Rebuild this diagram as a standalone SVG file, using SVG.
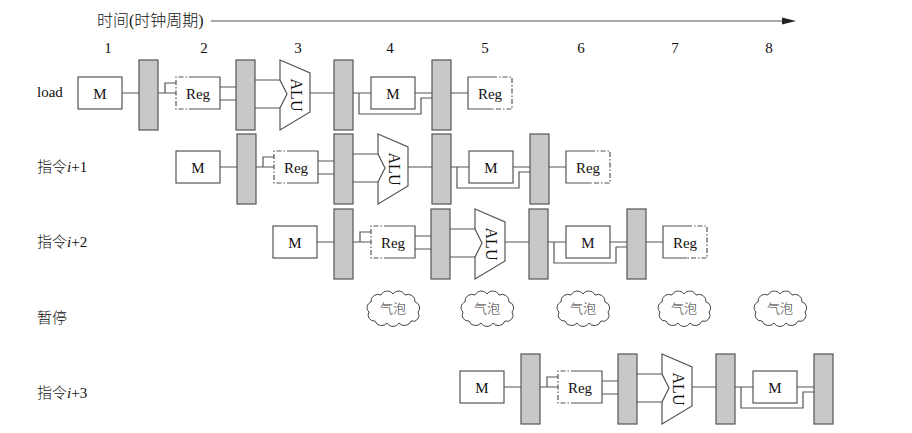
<svg xmlns="http://www.w3.org/2000/svg" width="912" height="433" viewBox="0 0 912 433">
<style>
.bg{fill:#fff}
.box{fill:#fff;stroke:#555;stroke-width:1.2}
.reg{fill:#c8c8c8;stroke:#555;stroke-width:1.2}
.sol{fill:none;stroke:#555;stroke-width:1.2}
.dash{fill:none;stroke:#555;stroke-width:1.2;stroke-dasharray:5 2 1.5 2}
.fillw{fill:#fff;stroke:none}
.alu{fill:#fff;stroke:#555;stroke-width:1.2}
.wire{fill:none;stroke:#555;stroke-width:1.2}
.cloud{fill:#fff;stroke:#444;stroke-width:1}
.t{font-family:"Liberation Serif","Noto Sans CJK SC",serif;font-size:15px;fill:#111}
.tc{font-family:"Liberation Serif","Noto Sans CJK SC",serif;font-size:15px;fill:#111;text-anchor:middle}
.lbl{font-family:"Liberation Serif","Noto Sans CJK SC",serif;font-size:15px;font-weight:300;fill:#111}
.title{font-family:"Liberation Serif","Noto Sans CJK SC",serif;font-size:16px;font-weight:300;fill:#111}
.bub{font-family:"Noto Sans CJK SC",sans-serif;font-size:13px;font-weight:300;fill:#333;text-anchor:middle}
.alut{font-family:"Liberation Serif",serif;font-size:16px;fill:#111;text-anchor:middle}
</style>
<defs>
<path id="cloudShape" d="M -24,4 A 6 6 0 0 1 -22,-6 A 7 7 0 0 1 -12,-13 A 7 7 0 0 1 0,-14 A 7 7 0 0 1 12,-13 A 7 7 0 0 1 22,-6 A 6 6 0 0 1 25,4 A 6 6 0 0 1 18,13 A 7 7 0 0 1 6,15 A 7 7 0 0 1 -6,15 A 7 7 0 0 1 -18,13 A 6 6 0 0 1 -24,4 Z"/>
</defs>
<rect class="bg" x="0" y="0" width="912" height="433"/>

<!-- title and time axis -->
<g id="axis">
<text class="title" x="97" y="26">时间(时钟周期)</text>
<line class="wire" x1="211" y1="21" x2="785" y2="21"/>
<polygon points="782,17.5 796,21 782,24.5" fill="#222"/>
<text class="tc" x="108" y="53">1</text>
<text class="tc" x="204" y="53">2</text>
<text class="tc" x="298" y="53">3</text>
<text class="tc" x="390" y="53">4</text>
<text class="tc" x="485" y="53">5</text>
<text class="tc" x="581" y="53">6</text>
<text class="tc" x="675" y="53">7</text>
<text class="tc" x="769" y="53">8</text>
</g>

<!-- row labels -->
<g id="labels">
<text class="lbl" x="37" y="97" font-size="16">load</text>
<text class="lbl" x="37" y="172">指令<tspan font-style="italic">i</tspan>+1</text>
<text class="lbl" x="37" y="247">指令<tspan font-style="italic">i</tspan>+2</text>
<text class="lbl" x="37" y="323">暂停</text>
<text class="lbl" x="37" y="398">指令<tspan font-style="italic">i</tspan>+3</text>
</g>

<!-- connectors -->
<g id="connectors">
<g transform="translate(139,60)">
<path class="wire" d="M -17,33 H 0 M 19,33 H 37 M 26,33 V 23 H 37 M 81,27 H 97 M 81,40 H 97 M 116,20 H 141 M 116,48 H 141 M 171,33 H 195 M 214,33 H 232 M 220,33 V 54 H 282 V 38 H 293 M 276,33 H 293 M 312,33 H 329"/>
</g>
<g transform="translate(237,134)">
<path class="wire" d="M -17,33 H 0 M 19,33 H 37 M 26,33 V 23 H 37 M 81,27 H 97 M 81,40 H 97 M 116,20 H 141 M 116,48 H 141 M 171,33 H 195 M 214,33 H 232 M 220,33 V 54 H 282 V 38 H 293 M 276,33 H 293 M 312,33 H 329"/>
</g>
<g transform="translate(334,209)">
<path class="wire" d="M -17,33 H 0 M 19,33 H 37 M 26,33 V 23 H 37 M 81,27 H 97 M 81,40 H 97 M 116,20 H 141 M 116,48 H 141 M 171,33 H 195 M 214,33 H 232 M 220,33 V 54 H 282 V 38 H 293 M 276,33 H 293 M 312,33 H 329"/>
</g>
<g transform="translate(521,354)">
<path class="wire" d="M -17,33 H 0 M 19,33 H 37 M 26,33 V 23 H 37 M 81,27 H 97 M 81,40 H 97 M 116,20 H 141 M 116,48 H 141 M 171,33 H 195 M 214,33 H 232 M 220,33 V 54 H 282 V 38 H 293 M 276,33 H 293"/>
</g>
</g>

<!-- row 1: load -->
<g id="row-load" transform="translate(139,60)">
<g id="load-M"><rect class="box" x="-61" y="17" width="44" height="32"/><text class="tc" x="-39" y="38.5">M</text></g>
<g id="load-P1"><rect class="reg" x="0" y="0" width="19" height="70"/></g>
<g id="load-RegR"><rect class="fillw" x="37" y="17" width="44" height="32"/><path class="dash" d="M 55,17 H 37 V 49 H 55"/><path class="sol" d="M 55,17 H 81 V 49 H 55"/><text class="tc" x="59" y="38.5">Reg</text></g>
<g id="load-P2"><rect class="reg" x="97" y="0" width="19" height="70"/></g>
<g id="load-ALU"><polygon class="alu" points="141,0 171,13 171,52 141,70 141,48 148,34 141,20"/><text class="alut" transform="translate(157,35) rotate(90)" y="5.5">ALU</text></g>
<g id="load-P3"><rect class="reg" x="195" y="0" width="19" height="70"/></g>
<g id="load-M2"><rect class="box" x="232" y="17" width="44" height="32"/><text class="tc" x="254" y="38.5">M</text></g>
<g id="load-P4"><rect class="reg" x="293" y="0" width="19" height="70"/></g>
<g id="load-RegW"><rect class="fillw" x="329" y="17" width="44" height="32"/><path class="sol" d="M 353,17 H 329 V 49 H 353"/><path class="dash" d="M 353,17 H 373 V 49 H 353"/><text class="tc" x="351" y="38.5">Reg</text></g>
</g>

<!-- row 2: i+1 -->
<g id="row-i1" transform="translate(237,134)">
<g id="i1-M"><rect class="box" x="-61" y="17" width="44" height="32"/><text class="tc" x="-39" y="38.5">M</text></g>
<g id="i1-P1"><rect class="reg" x="0" y="0" width="19" height="70"/></g>
<g id="i1-RegR"><rect class="fillw" x="37" y="17" width="44" height="32"/><path class="dash" d="M 55,17 H 37 V 49 H 55"/><path class="sol" d="M 55,17 H 81 V 49 H 55"/><text class="tc" x="59" y="38.5">Reg</text></g>
<g id="i1-P2"><rect class="reg" x="97" y="0" width="19" height="70"/></g>
<g id="i1-ALU"><polygon class="alu" points="141,0 171,13 171,52 141,70 141,48 148,34 141,20"/><text class="alut" transform="translate(157,35) rotate(90)" y="5.5">ALU</text></g>
<g id="i1-P3"><rect class="reg" x="195" y="0" width="19" height="70"/></g>
<g id="i1-M2"><rect class="box" x="232" y="17" width="44" height="32"/><text class="tc" x="254" y="38.5">M</text></g>
<g id="i1-P4"><rect class="reg" x="293" y="0" width="19" height="70"/></g>
<g id="i1-RegW"><rect class="fillw" x="329" y="17" width="44" height="32"/><path class="sol" d="M 353,17 H 329 V 49 H 353"/><path class="dash" d="M 353,17 H 373 V 49 H 353"/><text class="tc" x="351" y="38.5">Reg</text></g>
</g>

<!-- row 3: i+2 -->
<g id="row-i2" transform="translate(334,209)">
<g id="i2-M"><rect class="box" x="-61" y="17" width="44" height="32"/><text class="tc" x="-39" y="38.5">M</text></g>
<g id="i2-P1"><rect class="reg" x="0" y="0" width="19" height="70"/></g>
<g id="i2-RegR"><rect class="fillw" x="37" y="17" width="44" height="32"/><path class="dash" d="M 55,17 H 37 V 49 H 55"/><path class="sol" d="M 55,17 H 81 V 49 H 55"/><text class="tc" x="59" y="38.5">Reg</text></g>
<g id="i2-P2"><rect class="reg" x="97" y="0" width="19" height="70"/></g>
<g id="i2-ALU"><polygon class="alu" points="141,0 171,13 171,52 141,70 141,48 148,34 141,20"/><text class="alut" transform="translate(157,35) rotate(90)" y="5.5">ALU</text></g>
<g id="i2-P3"><rect class="reg" x="195" y="0" width="19" height="70"/></g>
<g id="i2-M2"><rect class="box" x="232" y="17" width="44" height="32"/><text class="tc" x="254" y="38.5">M</text></g>
<g id="i2-P4"><rect class="reg" x="293" y="0" width="19" height="70"/></g>
<g id="i2-RegW"><rect class="fillw" x="329" y="17" width="44" height="32"/><path class="sol" d="M 353,17 H 329 V 49 H 353"/><path class="dash" d="M 353,17 H 373 V 49 H 353"/><text class="tc" x="351" y="38.5">Reg</text></g>
</g>

<!-- row 4: stall bubbles -->
<g id="bubble1" transform="translate(393,308)"><use href="#cloudShape" class="cloud"/><text class="bub" x="0" y="4.5">气泡</text></g>
<g id="bubble2" transform="translate(487,308)"><use href="#cloudShape" class="cloud"/><text class="bub" x="0" y="4.5">气泡</text></g>
<g id="bubble3" transform="translate(583,308)"><use href="#cloudShape" class="cloud"/><text class="bub" x="0" y="4.5">气泡</text></g>
<g id="bubble4" transform="translate(684,308)"><use href="#cloudShape" class="cloud"/><text class="bub" x="0" y="4.5">气泡</text></g>
<g id="bubble5" transform="translate(780,308)"><use href="#cloudShape" class="cloud"/><text class="bub" x="0" y="4.5">气泡</text></g>

<!-- row 5: i+3 -->
<g id="row-i3" transform="translate(521,354)">
<g id="i3-M"><rect class="box" x="-61" y="17" width="44" height="32"/><text class="tc" x="-39" y="38.5">M</text></g>
<g id="i3-P1"><rect class="reg" x="0" y="0" width="19" height="70"/></g>
<g id="i3-RegR"><rect class="fillw" x="37" y="17" width="44" height="32"/><path class="dash" d="M 55,17 H 37 V 49 H 55"/><path class="sol" d="M 55,17 H 81 V 49 H 55"/><text class="tc" x="59" y="38.5">Reg</text></g>
<g id="i3-P2"><rect class="reg" x="97" y="0" width="19" height="70"/></g>
<g id="i3-ALU"><polygon class="alu" points="141,0 171,13 171,52 141,70 141,48 148,34 141,20"/><text class="alut" transform="translate(157,35) rotate(90)" y="5.5">ALU</text></g>
<g id="i3-P3"><rect class="reg" x="195" y="0" width="19" height="70"/></g>
<g id="i3-M2"><rect class="box" x="232" y="17" width="44" height="32"/><text class="tc" x="254" y="38.5">M</text></g>
<g id="i3-P4"><rect class="reg" x="293" y="0" width="19" height="70"/></g>
</g>
</svg>
